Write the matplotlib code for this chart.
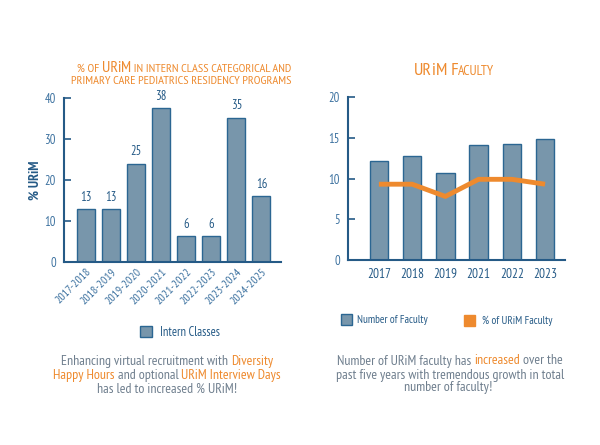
import matplotlib
matplotlib.use("Agg")
from matplotlib import pyplot as plt

# data
class_years = ['2017-2018', '2018-2019', '2019-2020', '2020-2021',
               '2021-2022', '2022-2023', '2023-2024', '2024-2025']
intern_pct = [12.9, 12.9, 24.0, 37.5, 6.3, 6.3, 35.2, 16.1]
intern_labels = ['13', '13', '25', '38', '6', '6', '35', '16']

fac_years = ['2017', '2018', '2019', '2021', '2022', '2023']
fac_count = [12.1, 12.8, 10.7, 14.1, 14.2, 14.9]
fac_urim_pct = [9.3, 9.3, 7.8, 9.9, 9.9, 9.3]

BAR = '#7896ab'
EDGE = '#2b6692'
AXC = '#255a86'
TICKC = '#3d72a0'
ORANGE = '#ee8a2e'
GRAY = '#6f7f8e'

plt.rcParams['font.family'] = ['PT Sans Narrow', 'DejaVu Sans']

fig = plt.figure(figsize=(6, 4.45), dpi=100)
W, H = 600, 445


def fx(px):
    return px / W


def fy(py):
    return 1 - py / H


def style_axis(ax):
    for s in ['top', 'right']:
        ax.spines[s].set_visible(False)
    for s in ['left', 'bottom']:
        ax.spines[s].set_color(AXC)
        ax.spines[s].set_linewidth(1.5)
    ax.tick_params(axis='y', direction='in', colors=AXC, labelcolor=TICKC,
                   length=5, width=1.2, labelsize=9, pad=6)
    ax.tick_params(axis='x', length=0)


# left chart
ax1 = fig.add_axes([fx(64), fy(262), fx(281) - fx(64), fy(98) - fy(262)])
xs = range(len(class_years))
ax1.bar(xs, intern_pct, width=0.72, color=BAR, edgecolor=EDGE, linewidth=1)
for x, v, lab in zip(xs, intern_pct, intern_labels):
    ax1.text(x, v + 1.3, lab, ha='center', va='bottom', color=AXC, fontsize=9)
ax1.set_ylim(0, 40)
ax1.set_yticks([0, 10, 20, 30, 40])
ax1.set_xlim(-0.88, 7.78)
ax1.set_xticks(list(xs))
ax1.set_xticklabels(class_years, rotation=45, ha='right', rotation_mode='anchor',
                    fontsize=8.5, color=TICKC)
ax1.tick_params(axis='x', pad=3)
ax1.set_ylabel('% URiM', color=AXC, fontsize=10, fontweight='bold', labelpad=2)
style_axis(ax1)

# right chart
ax2 = fig.add_axes([fx(348), fy(260), fx(565) - fx(348), fy(97) - fy(260)])
xs2 = range(len(fac_years))
ax2.bar(xs2, fac_count, width=0.55, color=BAR, edgecolor=EDGE, linewidth=1)
ax2.plot(list(xs2), fac_urim_pct, color=ORANGE, linewidth=3.5, solid_capstyle='butt')
ax2.set_ylim(0, 20)
ax2.set_yticks([0, 5, 10, 15, 20])
ax2.set_xlim(-0.93, 5.6)
ax2.set_xticks(list(xs2))
ax2.set_xticklabels(fac_years, fontsize=9.5, color=AXC)
ax2.tick_params(axis='x', pad=6)
style_axis(ax2)

fig.canvas.draw()
renderer = fig.canvas.get_renderer()


def multi_line(cx, cy, parts, va='center'):
    # parts: (text, color, size); drawn side by side and centred on cx
    texts = []
    for s, c, size in parts:
        texts.append(fig.text(0, fy(cy), s, color=c, fontsize=size, va=va, ha='left'))
    widths = [t.get_window_extent(renderer).width for t in texts]
    x = cx - sum(widths) / 2
    for t, w in zip(texts, widths):
        t.set_x(fx(x))
        x += w


# titles (small caps imitation)
BIG, SM = 11.5, 8.9
multi_line(184, 72, [('% OF ', ORANGE, SM), ('UR', ORANGE, BIG), ('i', ORANGE, BIG),
                     ('M', ORANGE, BIG),
                     (' IN INTERN CLASS CATEGORICAL AND', ORANGE, SM)], va='baseline')
multi_line(181, 84, [('PRIMARY CARE PEDIATRICS RESIDENCY PROGRAMS', ORANGE, SM)],
           va='baseline')
multi_line(454, 75, [('UR', ORANGE, 13), ('i', ORANGE, 13), ('M F', ORANGE, 13),
                     ('ACULTY', ORANGE, 9.8)], va='baseline')

# legends
fig.patches.append(plt.Rectangle((fx(140), fy(337)), fx(12), fy(0) - fy(11),
                                 transform=fig.transFigure, facecolor=BAR, edgecolor=EDGE))
fig.text(fx(160), fy(332), 'Intern Classes', va='center', color=AXC, fontsize=9)
fig.patches.append(plt.Rectangle((fx(341), fy(325)), fx(11), fy(0) - fy(11),
                                 transform=fig.transFigure, facecolor=BAR, edgecolor=EDGE))
fig.text(fx(357), fy(320), 'Number of Faculty', va='center', color=AXC, fontsize=8)
fig.patches.append(plt.Rectangle((fx(464), fy(326)), fx(11), fy(0) - fy(11),
                                 transform=fig.transFigure, facecolor=ORANGE, edgecolor=ORANGE))
fig.text(fx(482), fy(321), '% of URiM Faculty', va='center', color=AXC, fontsize=8)

# captions
FS = 10
multi_line(167, 362, [('Enhancing virtual recruitment with ', GRAY, FS), ('Diversity', ORANGE, FS)])
multi_line(167, 376, [('Happy Hours', ORANGE, FS), (' and optional ', GRAY, FS),
                      ('URiM Interview Days', ORANGE, FS)])
multi_line(167, 389, [('has led to increased % URiM!', GRAY, FS)])

multi_line(450, 361, [('Number of URiM faculty has ', GRAY, FS), ('increased', ORANGE, FS),
                      (' over the', GRAY, FS)])
multi_line(450, 375, [('past five years with tremendous growth in total', GRAY, FS)])
multi_line(448, 388, [('number of faculty!', GRAY, FS)])

fig.savefig('out.png', dpi=100)
